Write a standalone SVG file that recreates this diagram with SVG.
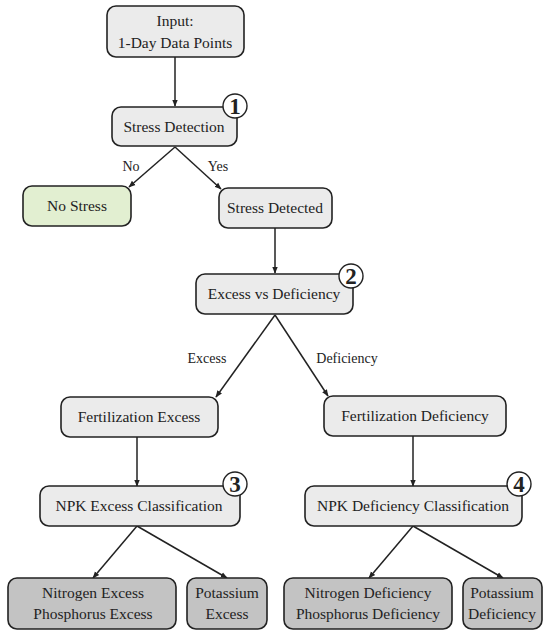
<svg xmlns="http://www.w3.org/2000/svg" width="550" height="636" viewBox="0 0 550 636">
<defs>
<marker id="ah" viewBox="0 0 10 10" refX="9" refY="5" markerWidth="7" markerHeight="7" orient="auto" markerUnits="userSpaceOnUse">
<path d="M0,1 L10,5 L0,9 z" fill="#222"/>
</marker>
<style>
.box{fill:#ebebeb;stroke:#222;stroke-width:1.6}
.green{fill:#e2efd1;stroke:#222;stroke-width:1.6}
.dark{fill:#c3c3c3;stroke:#222;stroke-width:1.6}
text{font-family:"Liberation Serif","Times New Roman",serif;fill:#222}
.t{font-size:15.5px;text-anchor:middle}
.lbl{font-size:14px;text-anchor:middle}
.num{font-size:23px;font-weight:bold;text-anchor:middle}
.circ{fill:#fff;stroke:#222;stroke-width:1.4}
.edge{stroke:#222;stroke-width:1.5;fill:none;marker-end:url(#ah)}
</style>
</defs>
<rect width="550" height="636" fill="#fff"/>
<g id="connectors">
<line class="edge" x1="175" y1="57" x2="175" y2="106"/>
<line class="edge" x1="175" y1="147" x2="129" y2="187"/>
<line class="edge" x1="175" y1="147" x2="221" y2="189"/>
<line class="edge" x1="275" y1="228" x2="275" y2="273"/>
<line class="edge" x1="275" y1="315" x2="216" y2="397"/>
<line class="edge" x1="275" y1="315" x2="328" y2="396"/>
<line class="edge" x1="137" y1="437" x2="137" y2="486"/>
<line class="edge" x1="413" y1="436" x2="413" y2="486"/>
<line class="edge" x1="137" y1="526" x2="93" y2="578"/>
<line class="edge" x1="137" y1="526" x2="227" y2="578"/>
<line class="edge" x1="413" y1="526" x2="369" y2="578"/>
<line class="edge" x1="413" y1="526" x2="503" y2="578"/>
<text class="lbl" x="131" y="171">No</text>
<text class="lbl" x="218" y="171">Yes</text>
<text class="lbl" x="207" y="363">Excess</text>
<text class="lbl" x="347" y="363">Deficiency</text>
</g>
<g id="input">
<rect class="box" x="107" y="6" width="137" height="51" rx="9"/>
<text class="t" x="175" y="26">Input:</text>
<text class="t" x="175" y="48">1-Day Data Points</text>
</g>
<g id="stress-detection">
<rect class="box" x="112" y="107" width="125" height="39" rx="9"/>
<text class="t" x="174" y="132">Stress Detection</text>
<circle class="circ" cx="235" cy="106" r="12"/>
<text class="num" x="235" y="114">1</text>
</g>
<g id="no-stress">
<rect class="green" x="23" y="186" width="108" height="40" rx="9"/>
<text class="t" x="77" y="211">No Stress</text>
</g>
<g id="stress-detected">
<rect class="box" x="219" y="188" width="113" height="40" rx="9"/>
<text class="t" x="275" y="213">Stress Detected</text>
</g>
<g id="excess-vs-deficiency">
<rect class="box" x="196" y="274" width="157" height="40" rx="9"/>
<text class="t" x="274" y="299">Excess vs Deficiency</text>
<circle class="circ" cx="351" cy="276" r="12"/>
<text class="num" x="351" y="284">2</text>
</g>
<g id="fertilization-excess">
<rect class="box" x="61" y="397" width="157" height="40" rx="9"/>
<text class="t" x="139" y="422">Fertilization Excess</text>
</g>
<g id="fertilization-deficiency">
<rect class="box" x="324" y="396" width="182" height="40" rx="9"/>
<text class="t" x="415" y="421">Fertilization Deficiency</text>
</g>
<g id="npk-excess">
<rect class="box" x="40" y="486" width="200" height="40" rx="9"/>
<text class="t" x="139" y="511">NPK Excess Classification</text>
<circle class="circ" cx="235" cy="484" r="12"/>
<text class="num" x="235" y="492">3</text>
</g>
<g id="npk-deficiency">
<rect class="box" x="305" y="486" width="217" height="40" rx="9"/>
<text class="t" x="413" y="511">NPK Deficiency Classification</text>
<circle class="circ" cx="519" cy="484" r="12"/>
<text class="num" x="519" y="492">4</text>
</g>
<g id="np-excess">
<rect class="dark" x="8" y="578" width="168" height="51" rx="9"/>
<text class="t" x="93" y="598">Nitrogen Excess</text>
<text class="t" x="93" y="619">Phosphorus Excess</text>
</g>
<g id="k-excess">
<rect class="dark" x="187" y="578" width="80" height="51" rx="9"/>
<text class="t" x="227" y="598">Potassium</text>
<text class="t" x="227" y="619">Excess</text>
</g>
<g id="np-deficiency">
<rect class="dark" x="284" y="578" width="168" height="51" rx="9"/>
<text class="t" x="368" y="598">Nitrogen Deficiency</text>
<text class="t" x="368" y="619">Phosphorus Deficiency</text>
</g>
<g id="k-deficiency">
<rect class="dark" x="463" y="578" width="79" height="51" rx="9"/>
<text class="t" x="502" y="598">Potassium</text>
<text class="t" x="502" y="619">Deficiency</text>
</g>
</svg>
